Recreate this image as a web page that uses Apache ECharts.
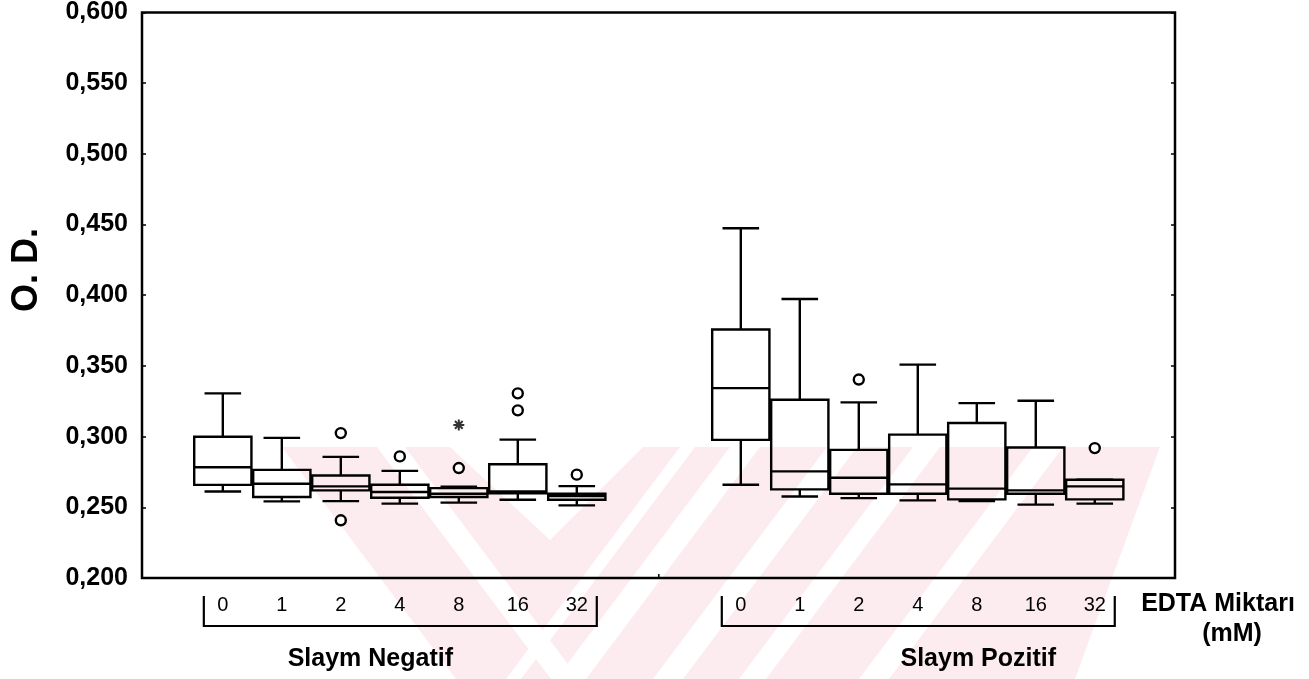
<!DOCTYPE html>
<html><head><meta charset="utf-8">
<script src="https://cdn.jsdelivr.net/npm/echarts@6/dist/echarts.min.js"></script>
<style>html,body{margin:0;padding:0;background:#fff}#c{width:1309px;height:679px}</style>
</head><body><div id="c"></div>
<script>
// ---------------- data ----------------
const doses = ['0', '1', '2', '4', '8', '16', '32'];
const groupNames = ['Slaym Negatif', 'Slaym Pozitif'];
const axisTitleX = ['EDTA Miktarı', '(mM)'];
const axisTitleY = 'O. D.';
const yMin = 0.200, yMax = 0.600, yStep = 0.050;
// each box: [min, Q1, median, Q3, max]
const negatifBoxes = [
  [0.2612, 0.2659, 0.2783, 0.2999, 0.3306],
  [0.2542, 0.2573, 0.2667, 0.2765, 0.2991],
  [0.2544, 0.2620, 0.2648, 0.2725, 0.2857],
  [0.2526, 0.2568, 0.2608, 0.2660, 0.2758],
  [0.2533, 0.2573, 0.2596, 0.2636, 0.2645],
  [0.2554, 0.2600, 0.2612, 0.2805, 0.2979],
  [0.2514, 0.2554, 0.2580, 0.2596, 0.2650]
];
const pozitifBoxes = [
  [0.2660, 0.2977, 0.3343, 0.3758, 0.4474],
  [0.2577, 0.2627, 0.2754, 0.3261, 0.3974],
  [0.2565, 0.2596, 0.2709, 0.2906, 0.3242],
  [0.2549, 0.2596, 0.2662, 0.3014, 0.3509],
  [0.2545, 0.2556, 0.2632, 0.3096, 0.3237],
  [0.2519, 0.2596, 0.2620, 0.2923, 0.3254],
  [0.2526, 0.2556, 0.2648, 0.2695, 0.2695]
];
// outliers: [dose index, value]
const negatifOutliers = [[2, 0.3025], [2, 0.2408], [3, 0.2860], [4, 0.2778], [5, 0.3306], [5, 0.3186], [6, 0.2731]];
const negatifExtremes = [[4, 0.3083]];
const pozitifOutliers = [[2, 0.3404], [6, 0.2919]];
const pozitifExtremes = [];

// ---------------- layout ----------------
const groupStart = [1.37, 10.15];   // x position of first dose of each group (axis units)
const xAxisMax = 17.51;
const FONT = '"Liberation Sans", Arial, sans-serif';
const LW = 2.4;

const chart = echarts.init(document.getElementById('c'), null, {renderer: 'canvas'});

function boxData(boxes, g) {
  return boxes.map((b, i) => [groupStart[g] + i].concat(b));
}
function ptData(pts, g) {
  return pts.map(p => [groupStart[g] + p[0], p[1]]);
}

function renderBox(params, api) {
  const x = api.value(0);
  const vals = [1, 2, 3, 4, 5].map(i => api.value(i));
  const c = v => api.coord([x, v]);
  const unit = api.size([1, 0])[0];
  const hw = unit * 0.485, cw = unit * 0.31;
  const cx = c(vals[0])[0];
  const yMn = c(vals[0])[1], yQ1 = c(vals[1])[1], yMd = c(vals[2])[1], yQ3 = c(vals[3])[1], yMx = c(vals[4])[1];
  const ls = {stroke: '#000', lineWidth: LW};
  const children = [
    {type: 'line', shape: {x1: cx, y1: yQ3, x2: cx, y2: yMx}, style: ls},
    {type: 'line', shape: {x1: cx - cw, y1: yMx, x2: cx + cw, y2: yMx}, style: ls},
    {type: 'line', shape: {x1: cx, y1: yQ1, x2: cx, y2: yMn}, style: ls},
    {type: 'line', shape: {x1: cx - cw, y1: yMn, x2: cx + cw, y2: yMn}, style: ls},
    {type: 'rect', shape: {x: cx - hw, y: yQ3, width: 2 * hw, height: yQ1 - yQ3},
      style: {stroke: '#000', lineWidth: LW, fill: 'rgba(0,0,0,0)'}},
    {type: 'line', shape: {x1: cx - hw, y1: yMd, x2: cx + hw, y2: yMd}, style: ls},
    {type: 'text', x: cx, y: c(yMin)[1] + 27,
      style: {text: doses[params.dataIndex], fill: '#000', fontSize: 20, fontFamily: FONT,
        align: 'center', verticalAlign: 'middle'}}
  ];
  return {type: 'group', children};
}

const circleStyle = {color: '#fff', borderColor: '#000', borderWidth: 2.4, opacity: 1};
const starPath = 'path://M5,0L5,10M0,5L10,5M1.5,1.5L8.5,8.5M1.5,8.5L8.5,1.5';

const yTickLabel = v => v.toFixed(3).replace('.', ',');

const option = {
  animation: false,
  backgroundColor: '#fff',
  grid: {left: 142, right: 134, top: 9, bottom: 101, show: true,
    borderColor: '#000', borderWidth: 2.5, backgroundColor: 'transparent'},
  xAxis: {type: 'value', min: 0, max: xAxisMax, show: true,
    axisLine: {show: false}, axisTick: {show: false}, axisLabel: {show: false}, splitLine: {show: false}},
  yAxis: [{
    type: 'value', min: yMin, max: yMax, interval: yStep,
    axisLine: {show: false},
    axisTick: {show: true, inside: true, length: 4, lineStyle: {color: '#000', width: 1.5}},
    splitLine: {show: false},
    axisLabel: {formatter: yTickLabel, color: '#000', fontSize: 25, fontWeight: 'bold',
      fontFamily: FONT, margin: 14}
  }, {
    type: 'value', min: yMin, max: yMax, interval: yStep, position: 'right',
    axisLine: {show: false},
    axisTick: {show: true, inside: true, length: 4, lineStyle: {color: '#000', width: 1.5}},
    splitLine: {show: false}, axisLabel: {show: false}
  }],
  series: [
    {type: 'custom', name: groupNames[0], renderItem: renderBox, data: boxData(negatifBoxes, 0),
      encode: {x: 0, y: [1, 2, 3, 4, 5]}, clip: false, z: 3},
    {type: 'custom', name: groupNames[1], renderItem: renderBox, data: boxData(pozitifBoxes, 1),
      encode: {x: 0, y: [1, 2, 3, 4, 5]}, clip: false, z: 3},
    {type: 'scatter', data: ptData(negatifOutliers, 0).concat(ptData(pozitifOutliers, 1)),
      symbol: 'circle', symbolSize: 10, itemStyle: circleStyle, z: 4},
    {type: 'scatter', data: ptData(negatifExtremes, 0).concat(ptData(pozitifExtremes, 1)),
      symbol: starPath, symbolSize: 11,
      itemStyle: {color: 'rgba(0,0,0,0)', borderColor: '#000', borderWidth: 2}, z: 4}
  ]
};
chart.setOption(option);

// ---------------- decorations (brackets, titles, watermark) ----------------
const px = x => chart.convertToPixel({xAxisIndex: 0}, x);
const yBottom = chart.convertToPixel({yAxisIndex: 0}, yMin);
const graphics = [];
const lineStyle = {stroke: '#000', lineWidth: 2.2};

// watermark (light pink stripes)
const pink = '#fdecef';
const wmTop = 447, wmBot = 679, sh = (wmBot - wmTop) * 0.75;
graphics.push({type: 'polygon', z: -10, shape: {points: [[282, wmTop], [1160, wmTop], [1075, wmBot], [456, wmBot]]},
  style: {fill: pink}});
graphics.push({type: 'polygon', z: -9, shape: {points: [[450, wmTop], [643, wmTop], [550, 540]]}, style: {fill: '#fff'}});
graphics.push({type: 'polygon', z: -9, shape: {points: [[377, wmTop], [405, wmTop], [405 + sh, wmBot], [377 + sh, wmBot]]}, style: {fill: '#fff'}});
[[680, 695], [730, 760], [827, 857], [913, 940], [1033, 1063]].forEach(s => {
  graphics.push({type: 'polygon', z: -9, shape: {points: [[s[0], wmTop], [s[1], wmTop], [s[1] - sh, wmBot], [s[0] - sh, wmBot]]},
    style: {fill: '#fff'}});
});

// group brackets and names
const bracketY = yBottom + 48, bracketTop = yBottom + 18;
const nameOffsets = [-30, 60];
[0, 1].forEach(g => {
  const l = px(groupStart[g]) - 19, r = px(groupStart[g] + doses.length - 1) + 20;
  graphics.push({type: 'polyline', z: 5, shape: {points: [[l, bracketTop], [l, bracketY], [r, bracketY], [r, bracketTop]]},
    style: Object.assign({fill: null}, lineStyle)});
  graphics.push({type: 'text', z: 5, x: (l + r) / 2 + nameOffsets[g], y: yBottom + 81,
    style: {text: groupNames[g], fill: '#000', fontSize: 25, fontWeight: 'bold', fontFamily: FONT,
      align: 'center', verticalAlign: 'middle'}});
});
// small separator tick between groups on bottom frame
const mid = (px(groupStart[0] + doses.length - 1) + px(groupStart[1])) / 2;
graphics.push({type: 'line', z: 5, shape: {x1: mid, y1: yBottom - 4, x2: mid, y2: yBottom}, style: {stroke: '#000', lineWidth: 1.5}});

// axis titles
graphics.push({type: 'text', z: 5, x: 1218, y: yBottom + 26,
  style: {text: axisTitleX[0], fill: '#000', fontSize: 25, fontWeight: 'bold', fontFamily: FONT, align: 'center', verticalAlign: 'middle'}});
graphics.push({type: 'text', z: 5, x: 1232, y: yBottom + 56,
  style: {text: axisTitleX[1], fill: '#000', fontSize: 25, fontWeight: 'bold', fontFamily: FONT, align: 'center', verticalAlign: 'middle'}});
graphics.push({type: 'text', z: 5, x: 27, y: 270, rotation: Math.PI / 2,
  style: {text: axisTitleY, fill: '#000', fontSize: 36, fontWeight: 'bold', fontFamily: FONT, align: 'center', verticalAlign: 'middle'}});

chart.setOption({graphic: {elements: graphics}});
</script>
</body></html>
